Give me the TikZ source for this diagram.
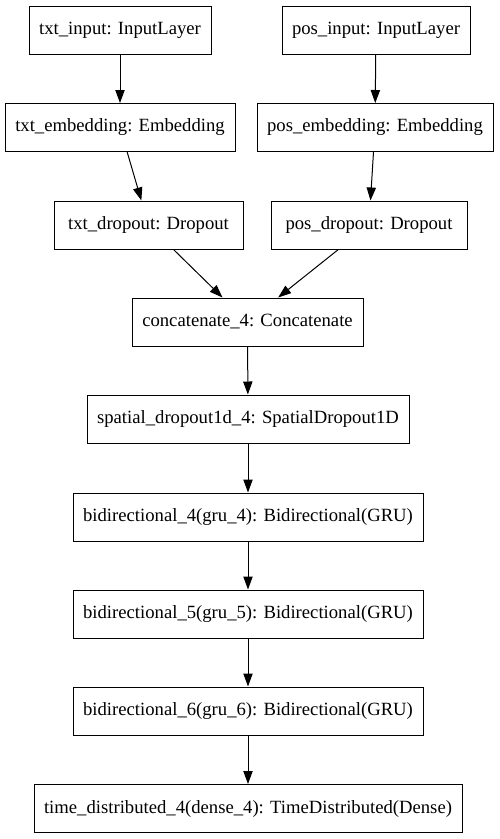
\documentclass[tikz,border=0pt]{standalone}
\usepackage{fontspec}
\setmainfont{Liberation Serif}
\usetikzlibrary{arrows.meta}
\begin{document}
\begin{tikzpicture}[x=1pt, y=-1pt,
    layer/.style={draw, line width=1pt, rectangle, minimum height=48pt, inner sep=0pt, font=\fontsize{18.67}{21}\selectfont},
    flow/.style={line width=1pt, -{Triangle[length=13pt, width=9.3pt]}}]
    \useasboundingbox (0,0) rectangle (499,839);
    \node[layer, minimum width=182pt] (txtin) at (120,30) {txt\_input: InputLayer};
    \node[layer, minimum width=188pt] (posin) at (376,30) {pos\_input: InputLayer};
    \node[layer, minimum width=230pt] (txtemb) at (120,127.5) {txt\_embedding: Embedding};
    \node[layer, minimum width=236pt] (posemb) at (375,127.5) {pos\_embedding: Embedding};
    \node[layer, minimum width=189pt] (txtdrop) at (148.5,225) {txt\_dropout: Dropout};
    \node[layer, minimum width=196pt] (posdrop) at (369,225) {pos\_dropout: Dropout};
    \node[layer, minimum width=231pt] (concat) at (247.5,322) {concatenate\_4: Concatenate};
    \node[layer, minimum width=322pt] (spdrop) at (248,419) {spatial\_dropout1d\_4: SpatialDropout1D};
    \node[layer, minimum width=350pt] (bi4) at (248,517) {bidirectional\_4(gru\_4): Bidirectional(GRU)};
    \node[layer, minimum width=350pt] (bi5) at (248,614) {bidirectional\_5(gru\_5): Bidirectional(GRU)};
    \node[layer, minimum width=350pt] (bi6) at (248,711) {bidirectional\_6(gru\_6): Bidirectional(GRU)};
    \node[layer, minimum width=428pt] (timedist) at (248,808.5) {time\_distributed\_4(dense\_4): TimeDistributed(Dense)};
    \path[flow] (txtin) edge (txtemb);
    \path[flow] (posin) edge (posemb);
    \path[flow] (txtemb) edge (txtdrop);
    \path[flow] (posemb) edge (posdrop);
    \path[flow] (txtdrop) edge (concat);
    \path[flow] (posdrop) edge (concat);
    \path[flow] (concat) edge (spdrop);
    \path[flow] (spdrop) edge (bi4);
    \path[flow] (bi4) edge (bi5);
    \path[flow] (bi5) edge (bi6);
    \path[flow] (bi6) edge (timedist);
\end{tikzpicture}
\end{document}
